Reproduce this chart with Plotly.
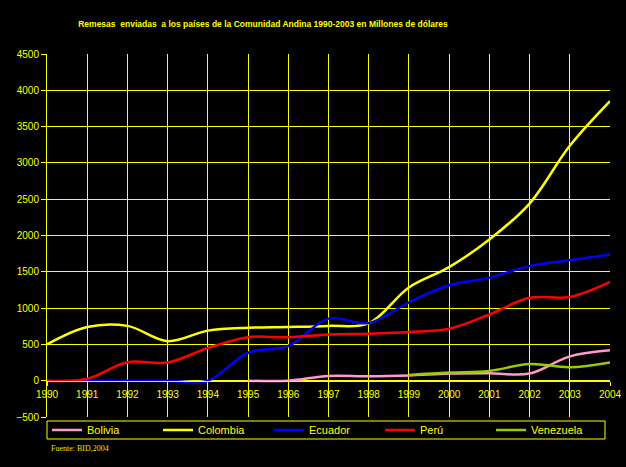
import plotly.graph_objects as go

years = list(range(1990, 2005))
bolivia = [None, None, None, None, None, 0, 0, 65, 60, 72, 98, 102, 98, 335, 418]
colombia = [500, 740, 755, 545, 690, 730, 740, 755, 790, 1285, 1565, 1945, 2440, 3235, 3850]
ecuador = [0, 0, 0, 0, 0, 385, 478, 855, 794, 1080, 1314, 1420, 1578, 1658, 1737]
peru = [0, 27, 255, 250, 450, 600, 598, 638, 648, 670, 715, 912, 1142, 1152, 1360]
venezuela = [None, None, None, None, None, None, None, None, None, 80, 112, 135, 229, 186, 252]

series = [
    ('Bolivia', bolivia, '#FF99CC'),
    ('Colombia', colombia, '#FFFF00'),
    ('Ecuador', ecuador, '#0000FF'),
    ('Perú', peru, '#FF0000'),
    ('Venezuela', venezuela, '#99CC00'),
]

yellow = '#FFFF00'
plot_h = 363  # plot area height in px, used to place things under it

fig = go.Figure()
for name, vals, color in series:
    fig.add_scatter(
        x=years,
        y=vals,
        name=name,
        mode='lines',
        line=dict(color=color, width=2.5, shape='spline', smoothing=1),
    )

fig.update_layout(
    width=626,
    height=467,
    paper_bgcolor='black',
    plot_bgcolor='black',
    margin=dict(l=47, r=16, t=54, b=50),
    font=dict(family='Liberation Sans, Arial', color=yellow, size=10),
    title=dict(
        text='<b>Remesas  enviadas  a los países de la Comunidad Andina 1990-2003 en Millones de dólares</b>',
        font=dict(family='Liberation Sans Narrow, Liberation Sans, Arial', size=8.5, color=yellow),
        x=263 / 626, xanchor='center', xref='container',
        y=1 - 24 / 467, yanchor='middle', yref='container',
    ),
    legend=dict(
        orientation='h',
        x=0, xanchor='left',
        y=-13 / plot_h, yanchor='middle',
        bgcolor='rgba(0,0,0,0)',
        borderwidth=0,
        font=dict(size=11, color=yellow),
        entrywidth=66,
        tracegroupgap=0,
    ),
    xaxis=dict(
        range=[1990, 2004],
        dtick=1,
        tick0=1990,
        anchor='free',
        position=0.1,
        automargin=False,
        showgrid=True,
        gridcolor=yellow,
        gridwidth=1,
        zeroline=False,
        showline=True,
        linecolor=yellow,
        ticks='outside',
        ticklen=4,
        tickcolor=yellow,
        tickfont=dict(size=10, color=yellow),
    ),
    yaxis=dict(
        range=[-500, 4500],
        dtick=500,
        tick0=0,
        automargin=False,
        showgrid=True,
        gridcolor=yellow,
        gridwidth=1,
        zeroline=False,
        showline=True,
        linecolor=yellow,
        ticks='outside',
        ticklen=5,
        tickcolor=yellow,
        tickfont=dict(size=10, color=yellow),
    ),
)

# legend frame (plotly's own border makes the box too tall)
fig.add_shape(
    type='rect',
    xref='paper', yref='paper',
    x0=0, x1=558 / 563,
    y0=-4 / plot_h, y1=-22 / plot_h,
    line=dict(color=yellow, width=1),
    fillcolor='rgba(0,0,0,0)',
)

fig.add_annotation(
    text='Fuente: BID,2004',
    xref='paper', yref='paper',
    x=2 / 563, xanchor='left',
    y=-31 / plot_h, yanchor='middle',
    showarrow=False,
    font=dict(family='Liberation Serif, Times New Roman', size=8, color='#E6E600'),
)

# page body has a default margin; drop it so the figure sits at the window's corner
fig.write_html(
    "out.html",
    config={'displayModeBar': False},
    post_script="document.body.style.margin='0';document.body.style.background='black';",
)
